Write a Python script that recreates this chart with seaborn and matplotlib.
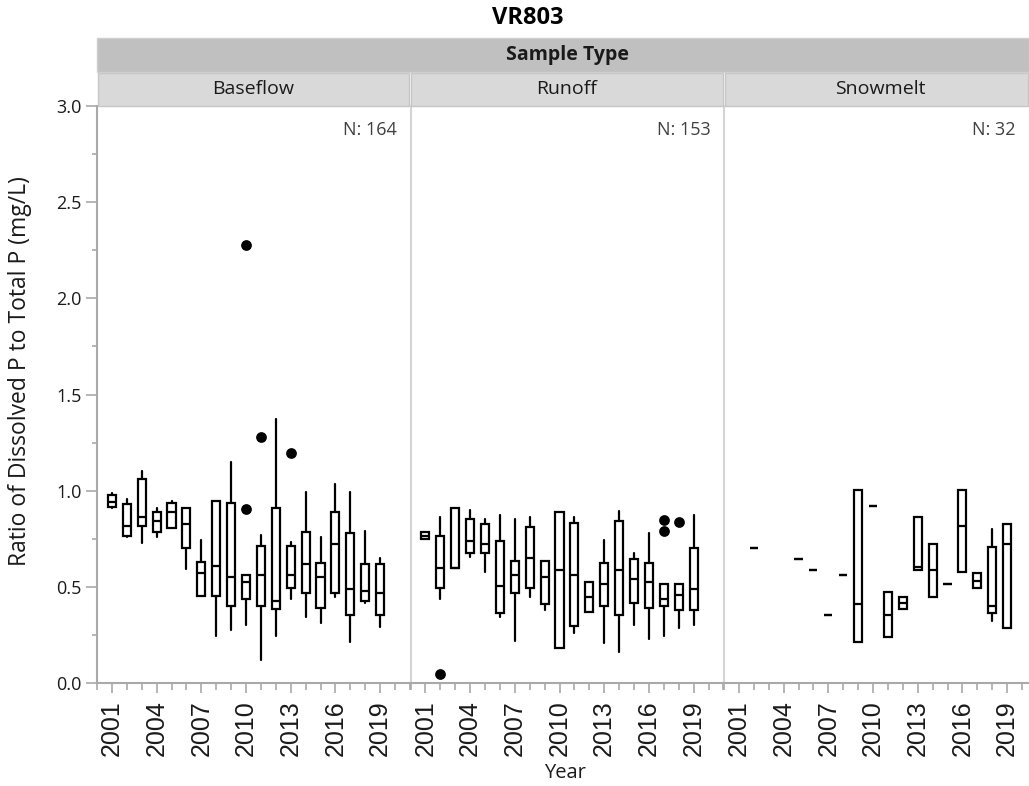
import numpy as np
import pandas as pd
import seaborn as sns
import matplotlib.pyplot as plt
from matplotlib.patches import Rectangle
from matplotlib.ticker import MultipleLocator

SAMPLE_TYPES = ["Baseflow", "Runoff", "Snowmelt"]
N_COUNTS = [164, 153, 32]

# box statistics per year
BASE_YEARS = list(range(2001, 2020))
BASE_LO = [0.908, 0.758, 0.726, 0.758, 0.804, 0.594, 0.454, 0.244, 0.276, 0.302,
           0.120, 0.244, 0.437, 0.342, 0.314, 0.449, 0.215, 0.418, 0.293]
BASE_Q1 = [0.917, 0.766, 0.816, 0.787, 0.804, 0.700, 0.454, 0.454, 0.399, 0.437,
           0.399, 0.383, 0.492, 0.466, 0.388, 0.466, 0.354, 0.428, 0.354]
BASE_MED = [0.943, 0.818, 0.865, 0.844, 0.888, 0.825, 0.574, 0.608, 0.551, 0.527,
            0.560, 0.428, 0.562, 0.619, 0.551, 0.723, 0.487, 0.478, 0.470]
BASE_Q3 = [0.978, 0.929, 1.061, 0.891, 0.938, 0.910, 0.628, 0.948, 0.938, 0.562,
           0.712, 0.910, 0.712, 0.787, 0.626, 0.891, 0.778, 0.619, 0.619]
BASE_HI = [0.986, 0.957, 1.101, 0.912, 0.948, 0.910, 0.744, 0.948, 1.149, 0.562,
           0.770, 1.373, 0.732, 0.995, 0.761, 1.035, 0.995, 0.790, 0.648]

RUN_YEARS = list(range(2001, 2020))
RUN_LO = [0.747, 0.435, 0.596, 0.657, 0.579, 0.342, 0.220, 0.446, 0.380, 0.184,
          0.258, 0.371, 0.210, 0.163, 0.302, 0.229, 0.244, 0.284, 0.302]
RUN_Q1 = [0.747, 0.492, 0.596, 0.674, 0.674, 0.362, 0.466, 0.492, 0.411, 0.184,
          0.296, 0.371, 0.400, 0.354, 0.418, 0.392, 0.400, 0.380, 0.380]
RUN_MED = [0.766, 0.596, 0.596, 0.738, 0.721, 0.506, 0.562, 0.648, 0.553, 0.588,
           0.562, 0.446, 0.515, 0.588, 0.541, 0.524, 0.437, 0.458, 0.487]
RUN_Q3 = [0.784, 0.766, 0.908, 0.851, 0.825, 0.740, 0.636, 0.813, 0.636, 0.891,
          0.834, 0.524, 0.626, 0.842, 0.643, 0.626, 0.513, 0.513, 0.700]
RUN_HI = [0.784, 0.865, 0.908, 0.900, 0.853, 0.874, 0.853, 0.865, 0.636, 0.891,
          0.865, 0.524, 0.744, 0.896, 0.678, 0.778, 0.513, 0.513, 0.874]

SNOW_YEARS = [2002, 2005, 2006, 2007, 2008, 2009, 2010, 2011, 2012, 2013,
              2014, 2015, 2016, 2017, 2018, 2019]
SNOW_LO = [0.702, 0.645, 0.588, 0.354, 0.562, 0.212, 0.920, 0.241, 0.383, 0.588,
           0.449, 0.515, 0.579, 0.492, 0.322, 0.288]
SNOW_Q1 = [0.702, 0.645, 0.588, 0.354, 0.562, 0.212, 0.920, 0.241, 0.383, 0.588,
           0.449, 0.515, 0.579, 0.492, 0.362, 0.288]
SNOW_MED = [0.702, 0.645, 0.588, 0.354, 0.562, 0.411, 0.920, 0.354, 0.414, 0.605,
            0.588, 0.515, 0.816, 0.530, 0.400, 0.721]
SNOW_Q3 = [0.702, 0.645, 0.588, 0.354, 0.562, 1.004, 0.920, 0.475, 0.449, 0.862,
           0.721, 0.515, 1.004, 0.570, 0.709, 0.825]
SNOW_HI = [0.702, 0.645, 0.588, 0.354, 0.562, 1.004, 0.920, 0.475, 0.449, 0.862,
           0.721, 0.515, 1.004, 0.570, 0.799, 0.825]

OUT_TYPE = ["Baseflow", "Baseflow", "Baseflow", "Baseflow",
            "Runoff", "Runoff", "Runoff", "Runoff"]
OUT_YEAR = [2010, 2010, 2011, 2013, 2002, 2017, 2017, 2018]
OUT_VAL = [2.278, 0.903, 1.281, 1.194, 0.047, 0.848, 0.790, 0.839]

frames = []
for name, yrs, lo, q1, med, q3, hi in [
    ("Baseflow", BASE_YEARS, BASE_LO, BASE_Q1, BASE_MED, BASE_Q3, BASE_HI),
    ("Runoff", RUN_YEARS, RUN_LO, RUN_Q1, RUN_MED, RUN_Q3, RUN_HI),
    ("Snowmelt", SNOW_YEARS, SNOW_LO, SNOW_Q1, SNOW_MED, SNOW_Q3, SNOW_HI),
]:
    frames.append(pd.DataFrame({"Sample Type": name, "Year": yrs, "lo": lo,
                                "q1": q1, "med": med, "q3": q3, "hi": hi}))
boxes = pd.concat(frames, ignore_index=True)
outliers = pd.DataFrame({"Sample Type": OUT_TYPE, "Year": OUT_YEAR, "Value": OUT_VAL})

W, H = 1029, 786
GRID = "#a9a9a9"


def draw_boxes(data, **kws):
    ax = plt.gca()
    stats = [dict(whislo=r.lo, q1=r.q1, med=r.med, q3=r.q3, whishi=r.hi, fliers=[])
             for r in data.itertuples()]
    ax.bxp(stats, positions=data["Year"].tolist(), widths=0.55, showcaps=False,
           patch_artist=True, manage_ticks=False,
           boxprops=dict(facecolor="white", edgecolor="black", linewidth=1.6),
           whiskerprops=dict(color="black", linewidth=1.6),
           medianprops=dict(color="black", linewidth=1.6))


sns.set_theme(style="white")
plt.rcParams["font.family"] = ["Open Sans", "DejaVu Sans"]

g = sns.FacetGrid(boxes, col="Sample Type", col_order=SAMPLE_TYPES, sharey=True,
                  sharex=False, height=4, aspect=1)
g.map_dataframe(draw_boxes)
g.set_titles("")
g.set_axis_labels("", "")
fig = g.figure
fig.set_size_inches(W / 100, H / 100)

lefts = [97, 410.5, 724]
widths = [313, 313, 305]
top, bottom = 106, 683
for i, (ax, name) in enumerate(zip(g.axes.flat, SAMPLE_TYPES)):
    ax.set_position([lefts[i] / W, 1 - bottom / H, widths[i] / W, (bottom - top) / H])
    sns.scatterplot(data=outliers[outliers["Sample Type"] == name], x="Year", y="Value",
                    ax=ax, color="black", s=60, linewidth=0, legend=False)
    ax.set_xlabel("")
    ax.set_ylabel("")
    ax.set_xlim(2000, 2000 + widths[i] / 14.9)
    ax.set_ylim(0, 3.0)
    ax.set_xticks(list(range(2001, 2020, 3)))
    ax.xaxis.set_minor_locator(MultipleLocator(1))
    ax.yaxis.set_major_locator(MultipleLocator(0.5))
    ax.yaxis.set_minor_locator(MultipleLocator(0.25))
    ax.tick_params(axis="x", which="major", length=7.5, width=1.2, color=GRID,
                   pad=5, labelsize=18, labelrotation=90, labelcolor="#1a1a1a",
                   bottom=True)
    ax.tick_params(axis="x", which="minor", length=5, width=1.2, color=GRID, bottom=True)
    for lab in ax.get_xticklabels():
        lab.set_family(["Liberation Sans", "DejaVu Sans"])
    ax.spines["top"].set_visible(False)
    ax.spines["right"].set_visible(False)
    ax.spines["bottom"].set_color(GRID)
    ax.spines["bottom"].set_linewidth(1.5)
    if i == 0:
        ax.spines["left"].set_color(GRID)
        ax.spines["left"].set_linewidth(1.5)
        ax.tick_params(axis="y", which="major", length=8, width=1.2, color=GRID,
                       pad=3, labelsize=13, labelcolor="#1a1a1a", left=True)
        ax.tick_params(axis="y", which="minor", length=3.6, width=1.2, color=GRID, left=True)
        ax.set_yticklabels([f"{v:.1f}" for v in ax.get_yticks()])
    else:
        ax.spines["left"].set_color("#d4d4d4")
        ax.spines["left"].set_linewidth(1.5)
        ax.tick_params(axis="y", which="both", left=False, labelleft=False)
    ax.text(1 - 13 / widths[i], 0.958, f"N: {N_COUNTS[i]}", transform=ax.transAxes,
            ha="right", va="center", fontsize=13, color="#404040")

    # panel strip
    fig.add_artist(Rectangle((lefts[i] / W + 1 / W, 1 - top / H), (widths[i] - 2) / W, 33 / H,
                             transform=fig.transFigure, facecolor="#d9d9d9",
                             edgecolor="#c6c6c6", linewidth=1))
    fig.text((lefts[i] + 156) / W, 1 - 89 / H, name, ha="center", va="center",
             fontsize=14, color="#1a1a1a")

fig.add_artist(Rectangle((97 / W, 1 - 72 / H), (W - 97) / W, 34 / H,
                         transform=fig.transFigure, facecolor="#c0c0c0",
                         edgecolor="#cfcfcf", linewidth=1))
fig.text(567 / W, 1 - 55 / H, "Sample Type", ha="center", va="center",
         fontsize=14, fontweight="bold", color="#1a1a1a")
fig.text(528 / W, 1 - 18 / H, "VR803", ha="center", va="center",
         fontsize=17, fontweight="bold", color="black")
fig.text(20 / W, 1 - 371 / H, "Ratio of Dissolved P to Total P (mg/L)", rotation=90,
         ha="center", va="center", fontsize=16.5, color="#1a1a1a")
fig.text(565 / W, 1 - 773 / H, "Year", ha="center", va="center",
         fontsize=14.5, color="#1a1a1a")

fig.savefig("out.png", dpi=100)
